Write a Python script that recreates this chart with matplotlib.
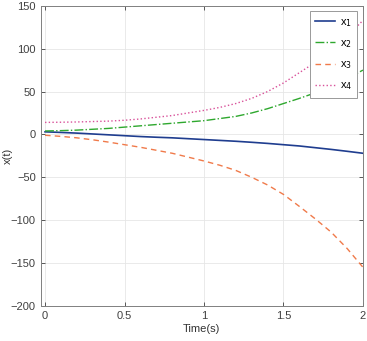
import numpy as np
import matplotlib.pyplot as plt

t = [0.0, 0.1, 0.2, 0.3, 0.4, 0.5, 0.6, 0.7, 0.8, 0.9, 1.0,
     1.1, 1.2, 1.3, 1.4, 1.5, 1.6, 1.7, 1.8, 1.9, 2.0]
x1 = [3, 2.3, 1.5, 0.5, -0.5, -1.5, -2.5, -3.3, -4, -5, -6,
      -7, -8, -9.2, -10.5, -12, -13.5, -15.5, -17.5, -19.7, -22]
x2 = [4, 4.4, 5, 6, 7, 8.5, 10, 11.5, 13, 14.5, 16,
      18.5, 21, 25, 30, 36, 42, 48.5, 56, 65, 75]
x3 = [-1, -2.3, -4, -6.3, -9, -12, -15, -18.5, -22, -26.5, -31,
      -36, -42, -50, -59, -70, -84, -98.5, -114, -133, -155]
x4 = [14, 14.2, 14.5, 15, 15.5, 16.5, 18, 20, 22, 25, 28,
      31.5, 36, 42, 50, 60, 72, 84, 98, 114, 133]

xticks = [0, 0.5, 1, 1.5, 2]
xticklabels = ["0", "0.5", "1", "1.5", "2"]
yticks = [-200, -150, -100, -50, 0, 50, 100, 150]

plt.rcParams["font.family"] = ["Liberation Sans", "DejaVu Sans"]
fig = plt.figure(figsize=(3.67, 3.41), dpi=100)
ax = fig.add_axes([0.111, 0.103, 0.878, 0.880])

ax.plot(t, x1, color="#1f3d8f", linestyle="-", linewidth=1.2, label="x$_1$")
ax.plot(t, x2, color="#2ea82e", linestyle="-.", linewidth=1.0, label="x$_2$")
ax.plot(t, x3, color="#f07a4a", linestyle="--", linewidth=1.0, dashes=(4, 3), label="x$_3$")
ax.plot(t, x4, color="#d9519a", linestyle=":", linewidth=1.0, label="x$_4$")

ax.set_xlim(-0.027, 2)
ax.set_ylim(-200, 150)
ax.set_xticks(xticks)
ax.set_xticklabels(xticklabels)
ax.set_yticks(yticks)
ax.grid(True, color="#e6e6e6", linewidth=0.6)
ax.tick_params(direction="in", top=True, right=True, labelsize=8, colors="#404040", length=3, width=0.6)
for s in ax.spines.values():
    s.set_color("#808080")
    s.set_linewidth(0.7)

ax.set_xlabel("Time(s)", fontsize=8, color="#333333", labelpad=2)
ax.set_ylabel("x(t)", fontsize=8, color="#333333")
ax.yaxis.set_label_coords(-0.088, 0.5)

leg = ax.legend(loc="upper right", fontsize=8, fancybox=False, framealpha=1,
                edgecolor="#999999", handlelength=1.8, labelspacing=0.85,
                borderaxespad=0.5, handletextpad=0.4, borderpad=0.5)
leg.get_frame().set_linewidth(0.7)

fig.savefig("out.png", dpi=100)
